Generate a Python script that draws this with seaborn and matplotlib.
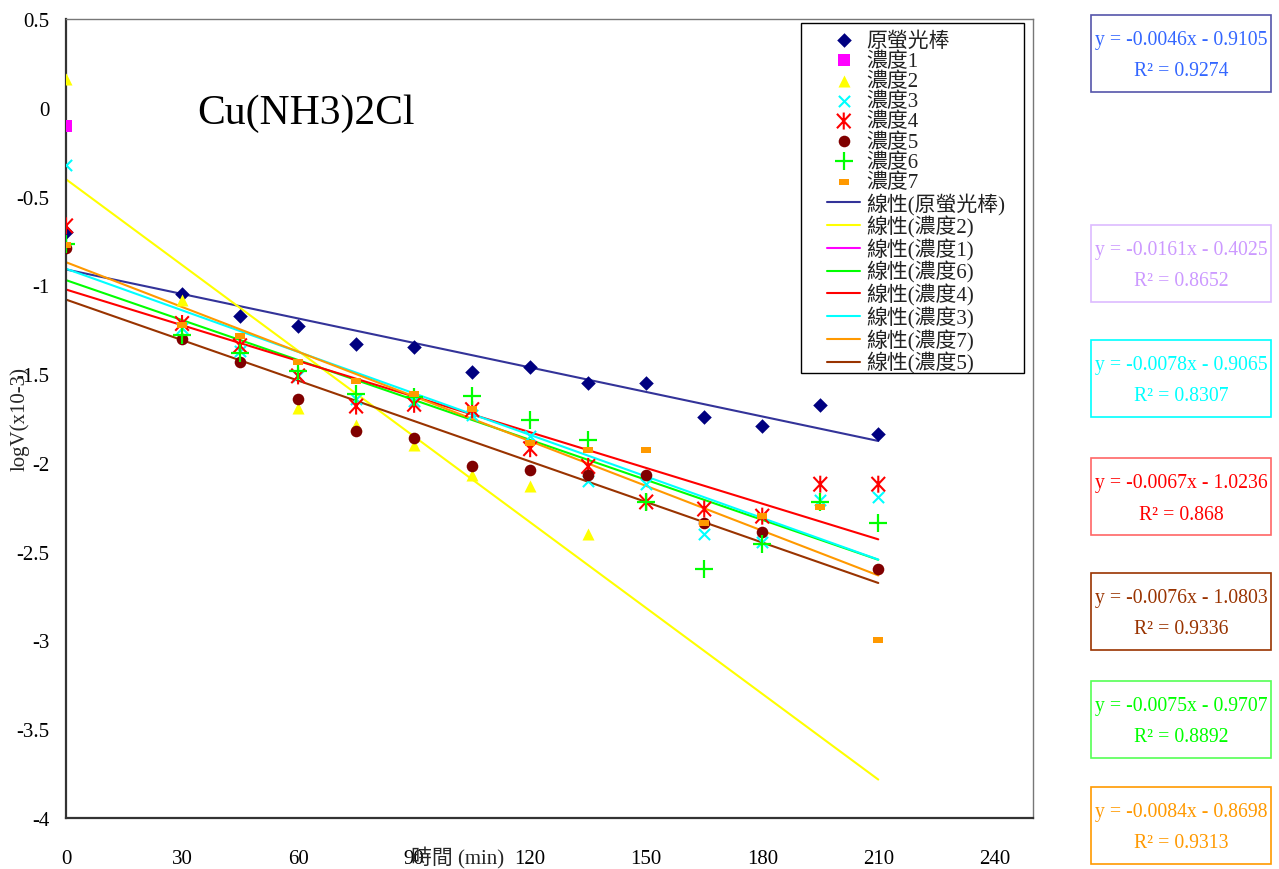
import numpy as np
import pandas as pd
import matplotlib
matplotlib.use("Agg")
import matplotlib.pyplot as plt
import seaborn as sns
from matplotlib.path import Path
from matplotlib.lines import Line2D
from matplotlib.patches import Rectangle

# ---------------- data ----------------
times = [0, 30, 45, 60, 75, 90, 105, 120, 135, 150, 165, 180, 195, 210]
nan = np.nan
s_orig = [-0.70, -1.05, -1.175, -1.23, -1.33, -1.35, -1.49, -1.46, -1.55, -1.55, -1.74, -1.79, -1.675, -1.835]
s_c1 = [-0.10, nan, nan, nan, nan, nan, nan, nan, nan, nan, nan, nan, nan, nan]
s_c2 = [0.16, -1.08, nan, -1.69, -1.785, -1.90, -2.07, -2.13, -2.40, nan, nan, nan, nan, nan]
s_c3 = [-0.32, -1.24, -1.37, -1.51, -1.64, -1.65, -1.73, -1.85, -2.10, -2.12, -2.40, -2.445, -2.21, -2.19]
s_c4 = [-0.665, -1.215, -1.34, -1.51, -1.68, -1.67, -1.70, -1.92, -2.02, -2.22, -2.26, -2.30, -2.12, -2.12]
s_c5 = [-0.79, -1.30, -1.43, -1.64, -1.82, -1.86, -2.02, -2.04, -2.07, -2.07, -2.34, -2.39, nan, -2.60]
s_c6 = [-0.765, -1.28, -1.38, -1.48, -1.61, -1.63, -1.625, -1.757, -1.87, -2.22, -2.60, -2.455, -2.22, -2.34]
s_c7 = [-0.775, -1.225, -1.285, -1.43, -1.54, -1.61, -1.695, -1.89, -1.93, -1.93, -2.34, -2.30, -2.25, -3.00]

series_names = ["原螢光棒", "濃度1", "濃度2", "濃度3", "濃度4", "濃度5", "濃度6", "濃度7"]
series_values = [s_orig, s_c1, s_c2, s_c3, s_c4, s_c5, s_c6, s_c7]

# trend lines (legend order) and their equations
trend_names = ["原螢光棒", "濃度2", "濃度1", "濃度6", "濃度4", "濃度3", "濃度7", "濃度5"]
trend_slope = {"原螢光棒": -0.0046, "濃度2": -0.0161, "濃度3": -0.0078, "濃度4": -0.0067,
               "濃度5": -0.0076, "濃度6": -0.0075, "濃度7": -0.0084}
trend_icpt = {"原螢光棒": -0.9105, "濃度2": -0.4025, "濃度3": -0.9065, "濃度4": -1.0236,
              "濃度5": -1.0803, "濃度6": -0.9707, "濃度7": -0.8698}
trend_x = [0, 210]

eq_series = ["原螢光棒", "濃度2", "濃度3", "濃度4", "濃度5", "濃度6", "濃度7"]
eq_text = ["y = -0.0046x - 0.9105", "y = -0.0161x - 0.4025", "y = -0.0078x - 0.9065",
           "y = -0.0067x - 1.0236", "y = -0.0076x - 1.0803", "y = -0.0075x - 0.9707",
           "y = -0.0084x - 0.8698"]
r2_text = ["0.9274", "0.8652", "0.8307", "0.868", "0.9336", "0.8892", "0.9313"]

x_ticks = [0, 30, 60, 90, 120, 150, 180, 210, 240]
y_ticks = [0.5, 0, -0.5, -1, -1.5, -2, -2.5, -3, -3.5, -4]
y_ticklabels = ["0.5", "0", "-0.5", "-1", "-1.5", "-2", "-2.5", "-3", "-3.5", "-4"]

# ---------------- styles ----------------
asterisk = Path([(0, -1), (0, 1), (-0.8, -0.85), (0.8, 0.85), (-0.8, 0.85), (0.8, -0.85)],
                [Path.MOVETO, Path.LINETO, Path.MOVETO, Path.LINETO, Path.MOVETO, Path.LINETO])
dash = [(-1, -0.5), (1, -0.5), (1, 0.5), (-1, 0.5), (-1, -0.5)]

pt_style = {
    "原螢光棒": dict(marker="D", color="#000080", s=55, linewidth=0),
    "濃度1": dict(marker="s", color="#ff00ff", s=65, linewidth=0),
    "濃度2": dict(marker="^", color="#ffff00", s=75, linewidth=0),
    "濃度3": dict(marker="x", color="#00ffff", s=65, linewidth=1.5),
    "濃度4": dict(marker=asterisk, color="#ff0000", edgecolor="#ff0000", facecolor="none", s=150, linewidth=1.5),
    "濃度5": dict(marker="o", color="#800000", s=70, linewidth=0),
    "濃度6": dict(marker="+", color="#00ff00", s=180, linewidth=1.6),
    "濃度7": dict(marker=dash, color="#ff9900", s=55, linewidth=0),
}
line_color = {"原螢光棒": "#333399", "濃度1": "#ff00ff", "濃度2": "#ffff00", "濃度3": "#00ffff",
              "濃度4": "#ff0000", "濃度5": "#993300", "濃度6": "#00ff00", "濃度7": "#ff9900"}
eq_color = ["#3366ff", "#cc99ff", "#00ffff", "#ff0000", "#993300", "#00ff00", "#ff9900"]
eq_edge = ["#5555aa", "#ddbbff", "#00ffff", "#ff6666", "#993300", "#55ff55", "#ff9900"]
eq_center_px = [54, 264, 379, 497, 612, 720, 826]

# ---------------- figure ----------------
sns.set_theme(style="white")
fam = ["Liberation Serif", "Noto Sans CJK TC"]
plt.rcParams["font.family"] = fam
plt.rcParams["axes.unicode_minus"] = False

W, H = 1279, 870
AX_L, AX_R, AX_T, AX_B = 66, 1033, 20, 819
fig = plt.figure(figsize=(W / 100, H / 100), dpi=100)
ax = fig.add_axes([AX_L / W, 1 - AX_B / H, (AX_R - AX_L) / W, (AX_B - AX_T) / H])


def ax_frac(px, py):
    return (px - AX_L) / (AX_R - AX_L), (AX_B - py) / (AX_B - AX_T)


df = pd.DataFrame({"t": times})
for name, vals in zip(series_names, series_values):
    df[name] = vals

for name in series_names:
    sub = df[["t", name]].dropna()
    st = dict(pt_style[name])
    sns.scatterplot(data=sub, x="t", y=name, ax=ax, label=name, zorder=3, **st)

for name in trend_names:
    if name not in trend_slope:
        continue
    tx = np.array(trend_x, dtype=float)
    ldf = pd.DataFrame({"x": tx, "y": trend_slope[name] * tx + trend_icpt[name]})
    sns.lineplot(data=ldf, x="x", y="y", ax=ax, color=line_color[name], linewidth=1.5,
                 label="線性(" + name + ")", zorder=2)

# legend in the reference order
handles, labels = ax.get_legend_handles_labels()
hmap = dict(zip(labels, handles))
leg_handles, leg_labels = [], []
for name in series_names:
    leg_handles.append(hmap[name])
    leg_labels.append(name)
for name in trend_names:
    lab = "線性(" + name + ")"
    if lab in hmap:
        leg_handles.append(hmap[lab])
    else:
        leg_handles.append(Line2D([], [], color=line_color[name], linewidth=1.5))
    leg_labels.append(lab)

# legend frame box drawn separately (wide left margin as in the reference)
fx0, fy0 = ax_frac(801, 374)
fx1, fy1 = ax_frac(1024, 24)
ax.add_patch(Rectangle((fx0, fy0), fx1 - fx0, fy1 - fy0, transform=ax.transAxes,
                       facecolor="white", edgecolor="black", linewidth=1.0, zorder=4))
lx, ly = ax_frac(825, 30)
leg = ax.legend(leg_handles, leg_labels, loc="upper left", bbox_to_anchor=(lx, ly),
                borderaxespad=0, prop={"family": fam, "size": 15}, frameon=False,
                labelspacing=0.03, handlelength=1.6, handletextpad=0.3, borderpad=0.1)
leg.set_zorder(5)
for txt in leg.get_texts():
    txt.set_color("#222222")

ax.set_xlim(0, 250)
ax.set_ylim(-4, 0.5)
ax.set_xticks(x_ticks)
ax.set_xticklabels([str(v) for v in x_ticks])
ax.set_yticks(y_ticks)
ax.set_yticklabels(y_ticklabels)
ax.tick_params(axis="both", direction="in", length=6, width=1, colors="#333333",
               labelcolor="black", labelsize=15)
ax.tick_params(axis="x", pad=22)
ax.tick_params(axis="y", pad=12)
for lab in ax.get_xticklabels() + ax.get_yticklabels():
    lab.set_family(fam)

for side in ["left", "bottom"]:
    ax.spines[side].set_color("#333333")
    ax.spines[side].set_linewidth(1.6)
for side in ["top", "right"]:
    ax.spines[side].set_color("#777777")
    ax.spines[side].set_linewidth(1.0)
    ax.spines[side].set_visible(True)

ax.set_xlabel("時間 (min)", fontsize=15, family=fam)
ax.xaxis.set_label_coords(0.405, -0.049)
ax.set_ylabel("logV(x10-3)", fontsize=15, family=fam)
ax.yaxis.set_label_coords(-0.048, 0.50)
ax.xaxis.label.set_va("center")
ax.yaxis.label.set_va("center")

ax.text(62, -0.03, "Cu(NH3)2Cl", fontsize=30, family=fam, ha="center", va="center", color="black")

# equation boxes on the right
bw, bh = 180, 77
cx = 1181
for i in range(len(eq_text)):
    cy = eq_center_px[i]
    rect = Rectangle(((cx - bw / 2) / W, 1 - (cy + bh / 2) / H), bw / W, bh / H,
                     transform=fig.transFigure, fill=False, edgecolor=eq_edge[i], linewidth=1.2)
    fig.add_artist(rect)
    fig.text(cx / W, 1 - (cy - 13) / H, eq_text[i], color=eq_color[i], fontsize=14.2,
             family=fam, ha="center", va="center")
    fig.text(cx / W, 1 - (cy + 18) / H, "R² = " + r2_text[i], color=eq_color[i], fontsize=14.2,
             family=fam, ha="center", va="center")

fig.savefig("out.png", dpi=100)
